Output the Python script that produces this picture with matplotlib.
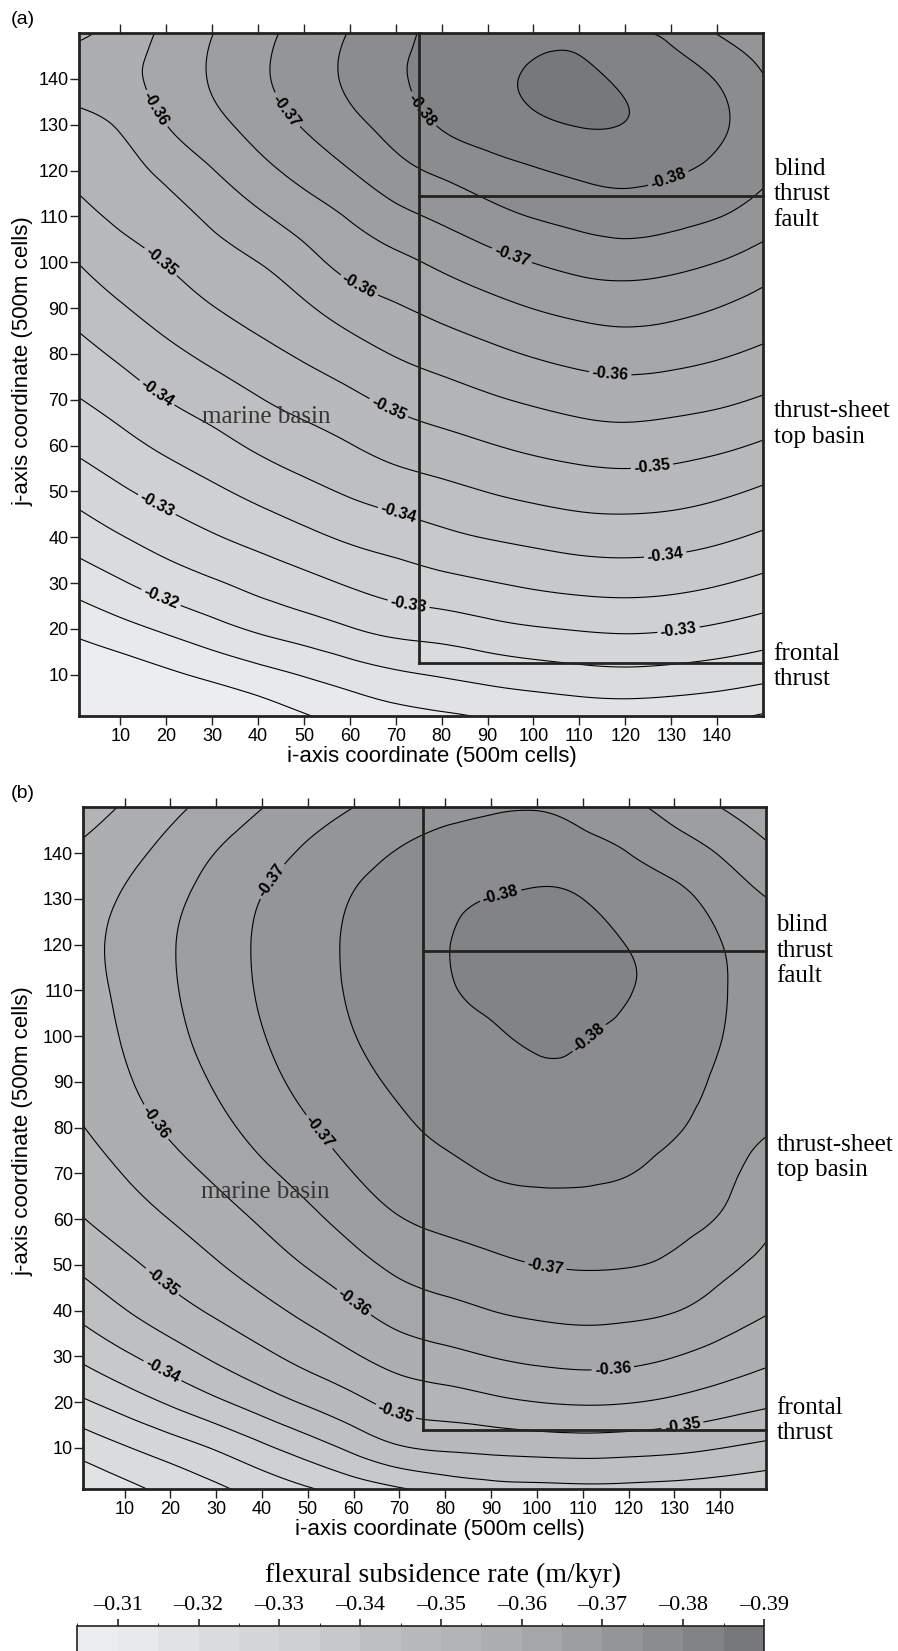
import numpy as np
import matplotlib
matplotlib.use("Agg")
import matplotlib.pyplot as plt
import matplotlib.tri as mtri
from matplotlib.colors import ListedColormap, BoundaryNorm
from matplotlib.cm import ScalarMappable

plt.rcParams['font.family'] = ['Liberation Sans', 'DejaVu Sans']
plt.rcParams['contour.negative_linestyle'] = 'solid'

# model grid nodes (500 m cells)
x_nodes = np.arange(0, 151, 10)
y_nodes = np.arange(0, 151, 10)

# flexural subsidence rate (m/kyr), one list per i-column, j = 0, 10, ..., 150
rate_a = [
    [-0.2982, -0.3051, -0.3110, -0.3168, -0.3219, -0.3265, -0.3308, -0.3346, -0.3381, -0.3415, -0.3448, -0.3482, -0.3511, -0.3536, -0.3564, -0.3540],
    [-0.3002, -0.3068, -0.3134, -0.3195, -0.3247, -0.3293, -0.3334, -0.3372, -0.3409, -0.3445, -0.3479, -0.3509, -0.3532, -0.3556, -0.3584, -0.3569],
    [-0.3023, -0.3090, -0.3158, -0.3222, -0.3272, -0.3318, -0.3360, -0.3400, -0.3437, -0.3473, -0.3502, -0.3530, -0.3562, -0.3600, -0.3618, -0.3611],
    [-0.3045, -0.3111, -0.3183, -0.3244, -0.3295, -0.3341, -0.3383, -0.3423, -0.3462, -0.3498, -0.3528, -0.3560, -0.3598, -0.3635, -0.3654, -0.3649],
    [-0.3067, -0.3132, -0.3207, -0.3265, -0.3316, -0.3364, -0.3408, -0.3447, -0.3485, -0.3519, -0.3550, -0.3592, -0.3634, -0.3670, -0.3690, -0.3684],
    [-0.3091, -0.3153, -0.3226, -0.3285, -0.3337, -0.3386, -0.3428, -0.3468, -0.3507, -0.3543, -0.3582, -0.3624, -0.3667, -0.3704, -0.3725, -0.3719],
    [-0.3111, -0.3174, -0.3247, -0.3305, -0.3358, -0.3406, -0.3448, -0.3489, -0.3530, -0.3573, -0.3617, -0.3654, -0.3699, -0.3737, -0.3758, -0.3752],
    [-0.3128, -0.3192, -0.3264, -0.3322, -0.3373, -0.3423, -0.3469, -0.3511, -0.3553, -0.3595, -0.3638, -0.3685, -0.3734, -0.3770, -0.3792, -0.3785],
    [-0.3137, -0.3204, -0.3272, -0.3335, -0.3389, -0.3437, -0.3483, -0.3527, -0.3571, -0.3615, -0.3660, -0.3709, -0.3759, -0.3804, -0.3818, -0.3815],
    [-0.3147, -0.3216, -0.3285, -0.3347, -0.3402, -0.3451, -0.3497, -0.3543, -0.3588, -0.3634, -0.3682, -0.3733, -0.3780, -0.3823, -0.3838, -0.3830],
    [-0.3155, -0.3226, -0.3296, -0.3358, -0.3412, -0.3463, -0.3510, -0.3557, -0.3604, -0.3651, -0.3701, -0.3752, -0.3796, -0.3840, -0.3856, -0.3835],
    [-0.3162, -0.3234, -0.3303, -0.3366, -0.3421, -0.3472, -0.3520, -0.3569, -0.3616, -0.3664, -0.3716, -0.3765, -0.3810, -0.3852, -0.3862, -0.3833],
    [-0.3165, -0.3238, -0.3307, -0.3369, -0.3424, -0.3475, -0.3525, -0.3574, -0.3622, -0.3670, -0.3722, -0.3774, -0.3816, -0.3849, -0.3840, -0.3805],
    [-0.3161, -0.3234, -0.3303, -0.3365, -0.3420, -0.3471, -0.3520, -0.3569, -0.3617, -0.3664, -0.3715, -0.3766, -0.3806, -0.3832, -0.3822, -0.3792],
    [-0.3153, -0.3226, -0.3293, -0.3354, -0.3409, -0.3460, -0.3510, -0.3560, -0.3606, -0.3650, -0.3700, -0.3752, -0.3789, -0.3808, -0.3797, -0.3748],
    [-0.3138, -0.3214, -0.3279, -0.3338, -0.3392, -0.3443, -0.3494, -0.3545, -0.3591, -0.3631, -0.3676, -0.3727, -0.3762, -0.3777, -0.3753, -0.3735],
]

rate_b = [
    [-0.3155, -0.3216, -0.3290, -0.3357, -0.3412, -0.3458, -0.3496, -0.3522, -0.3546, -0.3563, -0.3574, -0.3583, -0.3585, -0.3577, -0.3557, -0.3525],
    [-0.3181, -0.3246, -0.3323, -0.3392, -0.3448, -0.3489, -0.3524, -0.3552, -0.3577, -0.3594, -0.3604, -0.3610, -0.3613, -0.3605, -0.3584, -0.3555],
    [-0.3208, -0.3275, -0.3357, -0.3426, -0.3480, -0.3518, -0.3551, -0.3581, -0.3607, -0.3625, -0.3637, -0.3644, -0.3646, -0.3638, -0.3617, -0.3587],
    [-0.3235, -0.3305, -0.3391, -0.3459, -0.3508, -0.3546, -0.3578, -0.3609, -0.3636, -0.3655, -0.3668, -0.3675, -0.3677, -0.3670, -0.3651, -0.3619],
    [-0.3262, -0.3340, -0.3425, -0.3489, -0.3535, -0.3574, -0.3607, -0.3640, -0.3667, -0.3686, -0.3698, -0.3705, -0.3707, -0.3701, -0.3680, -0.3649],
    [-0.3287, -0.3375, -0.3457, -0.3517, -0.3563, -0.3603, -0.3638, -0.3669, -0.3695, -0.3713, -0.3724, -0.3731, -0.3733, -0.3727, -0.3708, -0.3676],
    [-0.3311, -0.3412, -0.3487, -0.3545, -0.3592, -0.3633, -0.3670, -0.3700, -0.3722, -0.3738, -0.3749, -0.3755, -0.3757, -0.3752, -0.3733, -0.3700],
    [-0.3333, -0.3445, -0.3516, -0.3572, -0.3621, -0.3662, -0.3698, -0.3723, -0.3742, -0.3757, -0.3767, -0.3774, -0.3777, -0.3770, -0.3753, -0.3722],
    [-0.3356, -0.3457, -0.3527, -0.3587, -0.3636, -0.3678, -0.3711, -0.3738, -0.3759, -0.3774, -0.3786, -0.3795, -0.3797, -0.3787, -0.3766, -0.3738],
    [-0.3373, -0.3463, -0.3539, -0.3601, -0.3650, -0.3690, -0.3723, -0.3752, -0.3766, -0.3781, -0.3795, -0.3812, -0.3822, -0.3801, -0.3772, -0.3746],
    [-0.3378, -0.3468, -0.3550, -0.3611, -0.3660, -0.3700, -0.3731, -0.3757, -0.3774, -0.3790, -0.3808, -0.3830, -0.3832, -0.3808, -0.3776, -0.3748],
    [-0.3381, -0.3471, -0.3555, -0.3616, -0.3665, -0.3704, -0.3733, -0.3756, -0.3772, -0.3788, -0.3803, -0.3828, -0.3827, -0.3800, -0.3766, -0.3737],
    [-0.3380, -0.3468, -0.3552, -0.3613, -0.3662, -0.3702, -0.3727, -0.3751, -0.3764, -0.3777, -0.3790, -0.3802, -0.3798, -0.3773, -0.3750, -0.3713],
    [-0.3376, -0.3462, -0.3541, -0.3601, -0.3652, -0.3691, -0.3715, -0.3735, -0.3755, -0.3771, -0.3782, -0.3786, -0.3781, -0.3763, -0.3726, -0.3681],
    [-0.3370, -0.3451, -0.3525, -0.3582, -0.3628, -0.3665, -0.3697, -0.3712, -0.3726, -0.3740, -0.3752, -0.3756, -0.3752, -0.3730, -0.3697, -0.3650],
    [-0.3362, -0.3438, -0.3509, -0.3562, -0.3604, -0.3636, -0.3662, -0.3683, -0.3704, -0.3718, -0.3725, -0.3725, -0.3717, -0.3701, -0.3662, -0.3620],
]

# fault traces: thrust front column, blind thrust row, frontal thrust row
faults_a = (75.0, 114.4, 12.5)
faults_b = (75.2, 118.7, 13.8)

# shading classes, -0.390 ... -0.305 in 0.005 steps
fill_bounds = np.round(np.arange(-0.390, -0.3049, 0.005), 3)
line_levels = np.round(np.arange(-0.385, -0.3099, 0.005), 3)
major_levels = [lv for lv in line_levels if round(lv * 1000) % 10 == 0]
minor_levels = [lv for lv in line_levels if round(lv * 1000) % 10 != 0]
bar_ticks = [-0.31, -0.32, -0.33, -0.34, -0.35, -0.36, -0.37, -0.38, -0.39]

# grey for each class, darkest (-0.390) to lightest (-0.305)
gray_steps = [119, 130, 139, 148, 157, 165, 173, 179, 184, 190, 199, 207, 213, 218, 225, 232, 236]
grays = [(g / 255, min(g + 1, 255) / 255, min(g + 3, 255) / 255) for g in gray_steps]
cmap = ListedColormap(grays)
cmap.set_under(grays[0])
cmap.set_over(grays[-1])
norm = BoundaryNorm(fill_bounds, cmap.N)

# where the contour values are written on each panel
spots_a = [(17, 133), (45.5, 132.6), (76, 133.4), (129.8, 117), (95, 100.6),
           (61.9, 94.7), (116.7, 75.4), (17.9, 99.1), (68.4, 68.1), (125.8, 55.4),
           (17.9, 71.4), (70.6, 45.2), (128.7, 36.1), (17.9, 47), (72.8, 25.5),
           (131.6, 19.7), (18.6, 26.2)]
spots_b = [(42.1, 133.9), (51.9, 78.6), (101.7, 48.7), (16.3, 80.8), (59.2, 40.7),
           (116.6, 26.9), (91.9, 131.4), (111.9, 99.0), (17.8, 45.8), (70.1, 20.3),
           (131.8, 14.5), (18.5, 27.3)]

serif = 'Liberation Serif'
edge = '#222222'

# regular grid split into triangles along the down-right diagonal
gx, gy = np.meshgrid(x_nodes, y_nodes)
node = np.arange(gx.size).reshape(gx.shape)
n00, n10 = node[:-1, :-1].ravel(), node[:-1, 1:].ravel()
n01, n11 = node[1:, :-1].ravel(), node[1:, 1:].ravel()
cells = np.concatenate([np.stack([n00, n10, n01], 1), np.stack([n10, n11, n01], 1)])
grid_tri = mtri.Triangulation(gx.ravel(), gy.ravel(), cells)
refiner = mtri.UniformTriRefiner(grid_tri)

fig = plt.figure(figsize=(8.98, 16.51), dpi=100)


def draw_panel(rect, cols, faults, spots, side_y, basin_xy, tag, tag_y, xlab_xy, ylab_y):
    ax = fig.add_axes(rect)
    z = np.array(cols).T.ravel()
    tri_f, z_f = refiner.refine_field(z, subdiv=4)
    ax.tricontourf(tri_f, z_f, levels=fill_bounds, cmap=cmap, norm=norm, extend='both')
    ax.tricontour(tri_f, z_f, levels=minor_levels, colors='k', linewidths=0.8,
                  linestyles='solid')
    cs = ax.tricontour(tri_f, z_f, levels=major_levels, colors='k', linewidths=0.8,
                       linestyles='solid')
    ax.set_xlim(1, 150)
    ax.set_ylim(1, 150)
    labels = ax.clabel(cs, manual=spots, inline=True, inline_spacing=3,
                       fmt='%.2f', fontsize=11.5)
    for t in labels:
        t.set_fontweight('bold')

    fx, fb, ff = faults
    ax.plot([fx, fx], [ff, 150], color=edge, lw=2.0, zorder=5, clip_on=False)
    ax.plot([fx, 150], [fb, fb], color=edge, lw=2.0, zorder=5, clip_on=False)
    ax.plot([fx, 150], [ff, ff], color=edge, lw=2.0, zorder=5, clip_on=False)

    for s in ax.spines.values():
        s.set_linewidth(2.0)
        s.set_color(edge)
        s.set_zorder(6)
    ax.set_xticks(np.arange(10, 141, 10))
    ax.set_yticks(np.arange(10, 141, 10))
    ax.tick_params(axis='x', direction='out', length=6.5, width=1, top=True,
                   labeltop=False, labelsize=13, pad=2, color=edge)
    ax.tick_params(axis='y', direction='out', length=6.5, width=1, right=False,
                   labelsize=13, pad=1, color=edge)

    ax.text(basin_xy[0], basin_xy[1], 'marine basin', ha='center', va='center',
            fontsize=18, family=serif, color='#353535', zorder=7)
    for txt, yy in zip(['blind\nthrust\nfault', 'thrust-sheet\ntop basin', 'frontal\nthrust'], side_y):
        ax.text(152.3, yy, txt, ha='left', va='center', fontsize=18, family=serif,
                linespacing=1.2, clip_on=False)

    fig.text(23 / 898, tag_y, tag, ha='center', va='center', fontsize=14)
    fig.text(xlab_xy[0], xlab_xy[1], 'i-axis coordinate (500m cells)',
             ha='center', va='center', fontsize=16)
    fig.text(23 / 898, ylab_y, 'j-axis coordinate (500m cells)', rotation=90,
             ha='center', va='center', fontsize=16)
    return ax


draw_panel([79 / 898, 1 - 716 / 1651, 684 / 898, 683 / 1651], rate_a, faults_a, spots_a,
           (114.8, 64.7, 11.8), (41.8, 66.3), '(a)', 1 - 19 / 1651,
           (432 / 898, 1 - 756 / 1651), 1 - 361 / 1651)
draw_panel([83.3 / 898, 1 - 1489 / 1651, 682.7 / 898, 681.7 / 1651], rate_b, faults_b, spots_b,
           (118.7, 73.5, 16.0), (40.8, 66.0), '(b)', 1 - 793 / 1651,
           (440 / 898, 1 - 1529 / 1651), 1 - 1131 / 1651)

# colour key along the bottom edge
cax = fig.add_axes([77.4 / 898, -0.012, 686.6 / 898, 25 / 1651 + 0.012])
cb = fig.colorbar(ScalarMappable(norm=norm, cmap=cmap), cax=cax, orientation='horizontal',
                  drawedges=True, ticks=bar_ticks)
cax.invert_xaxis()
cax.xaxis.set_ticks_position('top')
cb.set_ticklabels(['\u2013%.2f' % abs(t) for t in bar_ticks])
for lbl in cax.get_xticklabels():
    lbl.set_fontfamily(serif)
cax.tick_params(axis='x', direction='out', length=5, width=1.2, pad=3, labelsize=16, color=edge)
cb.outline.set_linewidth(1.2)
cb.outline.set_edgecolor(edge)
cb.dividers.set_color(edge)
cb.dividers.set_linewidth(1.0)
fig.text(443 / 898, 1 - 1575 / 1651, 'flexural subsidence rate (m/kyr)', ha='center',
         va='center', fontsize=20, family=serif)

fig.savefig('out.png', dpi=100)
